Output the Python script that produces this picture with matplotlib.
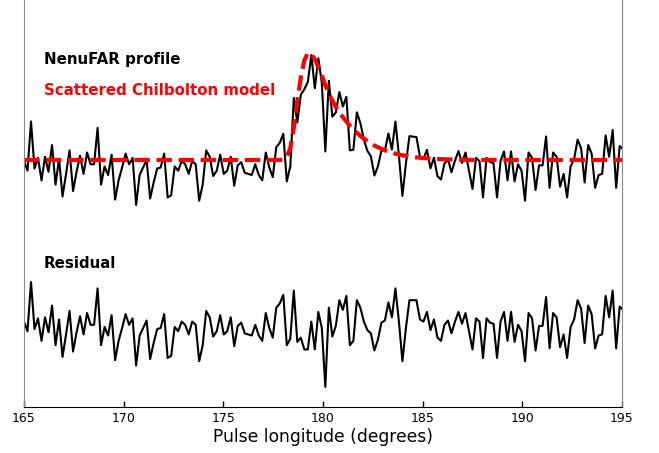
import numpy as np
import matplotlib
matplotlib.use("Agg")
import matplotlib.pyplot as plt

# Phase-bin grid (pulse longitude, degrees)
lon_start = 165.0
bin_width = 360.0 / 2048
n_bins = 172

# Residual (profile - model), normalised to model peak
residual = [
    -0.01, -0.10, 0.36, -0.08, 0.02, -0.19, 0.03, -0.11, 0.14, -0.23,
    0.01, -0.34, -0.13, 0.09, -0.29, -0.11, 0.04, -0.13, 0.07, -0.04,
    -0.04, 0.30, -0.23, -0.06, -0.14, 0.05, -0.37, -0.19, -0.07, 0.06,
    -0.04, 0.02, -0.42, -0.14, -0.07, 0.00, -0.36, -0.21, -0.08, -0.07,
    0.06, -0.35, -0.33, -0.06, -0.10, -0.01, -0.04, -0.13, -0.01, -0.04,
    -0.38, -0.23, 0.09, 0.03, -0.15, -0.10, 0.05, -0.13, -0.10, 0.03,
    -0.24, -0.05, -0.02, -0.12, -0.13, -0.14, -0.04, -0.14, -0.19, 0.07,
    -0.07, -0.16, 0.12, 0.16, 0.24, -0.23, -0.17, 0.28, -0.20, -0.16,
    -0.27, -0.27, -0.01, -0.27, 0.08, -0.07, -0.62, 0.12, -0.15, -0.05,
    0.19, 0.10, 0.23, -0.23, -0.19, 0.19, 0.12, -0.01, -0.09, -0.12,
    -0.28, -0.18, -0.02, 0.00, 0.17, 0.03, 0.30, -0.01, -0.38, -0.07,
    0.19, 0.19, 0.19, 0.01, -0.01, 0.08, -0.09, 0.01, -0.16, -0.19,
    -0.04, 0.00, -0.12, -0.01, 0.08, -0.03, 0.07, -0.10, -0.27, 0.02,
    -0.01, -0.35, 0.02, -0.02, -0.03, -0.35, -0.01, 0.08, -0.19, 0.08,
    -0.20, -0.04, -0.10, -0.38, 0.07, 0.02, -0.28, -0.05, -0.05, 0.22,
    -0.26, 0.07, 0.03, -0.25, -0.13, -0.35, -0.06, 0.01, 0.19, 0.11,
    -0.21, 0.14, 0.06, -0.26, -0.14, -0.13, 0.23, 0.03, 0.28, -0.26,
    0.13, 0.10,
]

# Scattered Chilbolton model, on-pulse part (starting at bin 72), zero elsewhere
model_start_bin = 72
model_on = [
    0.0, 0.0, 0.005, 0.03, 0.11, 0.30, 0.55, 0.77, 0.93, 1.00,
    0.99, 0.94, 0.87, 0.79, 0.70, 0.62, 0.555, 0.495, 0.445, 0.40,
    0.36, 0.32, 0.285, 0.255, 0.225, 0.20, 0.175, 0.155, 0.135, 0.12,
    0.105, 0.09, 0.078, 0.068, 0.059, 0.051, 0.044, 0.038, 0.033, 0.028,
    0.024, 0.021, 0.018, 0.015, 0.013, 0.011, 0.009, 0.008, 0.007, 0.006,
    0.005, 0.004, 0.003, 0.002,
]

residual_offset = 1.5

labels = ["NenuFAR profile", "Scattered Chilbolton model", "Residual"]
xticks = [165, 170, 175, 180, 185, 190, 195]

lon = lon_start + bin_width * np.arange(n_bins)
model = np.zeros(n_bins)
model[model_start_bin:model_start_bin + len(model_on)] = model_on
resid = np.array(residual)
profile = model + resid

fig = plt.figure(figsize=(6.59, 4.53), dpi=100)
ax = fig.add_axes([24 / 659, 46 / 453, 598 / 659, 407 / 453])

ax.plot(lon, profile, color="black", lw=1.5)
ax.plot(lon, model, color="red", lw=3, ls="--")
ax.plot(lon, resid - residual_offset, color="black", lw=1.5)

ax.text(166, 0.935, labels[0], color="black", fontweight="bold",
        fontsize=10.8, va="center", ha="left")
ax.text(166, 0.645, labels[1], color="red", fontweight="bold",
        fontsize=10.8, va="center", ha="left")
ax.text(166, -0.963, labels[2], color="black", fontweight="bold",
        fontsize=10.8, va="center", ha="left")

ax.set_xlim(165, 195)
ax.set_ylim(-2.308, 1.495)
ax.set_xticks(xticks)
ax.set_xticklabels([str(t) for t in xticks], fontsize=9)
ax.set_yticks([])
ax.tick_params(axis="x", direction="in", length=4, width=1)
ax.set_xlabel("Pulse longitude (degrees)", fontsize=12.3, labelpad=2)

ax.spines["top"].set_visible(False)
ax.spines["left"].set_color("#888888")
ax.spines["right"].set_color("#888888")
ax.spines["bottom"].set_color("black")

fig.savefig("out.png", dpi=100)
